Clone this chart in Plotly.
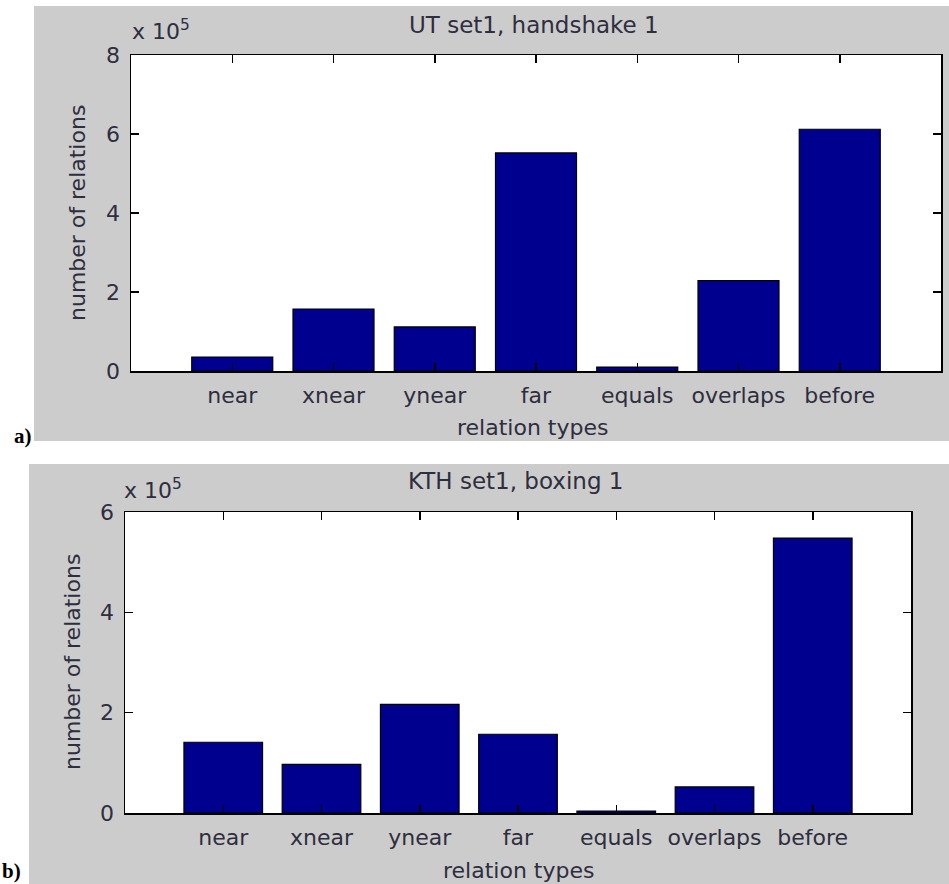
import plotly.graph_objects as go

categories = ["near", "xnear", "ynear", "far", "equals", "overlaps", "before"]
ut_values = [0.355e5, 1.57e5, 1.115e5, 5.52e5, 0.10e5, 2.29e5, 6.12e5]
kth_values = [1.41e5, 0.97e5, 2.165e5, 1.57e5, 0.04e5, 0.52e5, 5.48e5]
ut_yticks = [0, 2e5, 4e5, 6e5, 8e5]
ut_yticklabels = ["0", "2", "4", "6", "8"]
kth_yticks = [0, 2e5, 4e5, 6e5]
kth_yticklabels = ["0", "2", "4", "6"]
ut_title = "UT set1, handshake 1"
kth_title = "KTH set1, boxing 1"
x_title = "relation types"
y_title = "number of relations"

W, H = 949, 884
BAR = "#00008F"
TXT = "#2e2e3e"
FONT = "DejaVu Sans"
FS = 22

def px(x):
    return x / W

def py(y):
    return 1 - y / H

xpos = list(range(1, len(categories) + 1))

fig = go.Figure()
fig.add_trace(go.Bar(x=xpos, y=ut_values, width=0.8, marker=dict(color=BAR, line=dict(color="black", width=1.2)),
                     xaxis="x", yaxis="y", showlegend=False))
fig.add_trace(go.Bar(x=xpos, y=kth_values, width=0.8, marker=dict(color=BAR, line=dict(color="black", width=1.2)),
                     xaxis="x2", yaxis="y2", showlegend=False))

axis_common = dict(showline=True, linecolor="black", linewidth=1.5, mirror="ticks", ticks="inside",
                   ticklen=8, tickcolor="black", tickwidth=1.5, showgrid=False, zeroline=False,
                   automargin=False, fixedrange=True,
                   tickfont=dict(family=FONT, size=FS, color=TXT))

top = dict(l=131, r=941, t=55, b=371)
bot = dict(l=125, r=911, t=512, b=813)

def rect(x0, y0, x1, y1, color):
    return dict(type="rect", xref="paper", yref="paper", x0=px(x0), x1=px(x1), y0=py(y1), y1=py(y0),
                fillcolor=color, line=dict(width=0), layer="below")

fig.update_layout(
    template="none",
    width=W, height=H, margin=dict(l=0, r=0, t=0, b=0, pad=0, autoexpand=False),
    paper_bgcolor="white", plot_bgcolor="rgba(0,0,0,0)", showlegend=False,
    xaxis=dict(domain=[px(top["l"]), px(top["r"])], anchor="y", range=[0, 8],
               tickvals=xpos, ticktext=categories, ticklabelstandoff=4, **axis_common),
    yaxis=dict(domain=[py(top["b"]), py(top["t"])], anchor="x", range=[0, 8e5],
               tickvals=ut_yticks, ticktext=ut_yticklabels, ticklabelstandoff=5, **axis_common),
    xaxis2=dict(domain=[px(bot["l"]), px(bot["r"])], anchor="y2", range=[0, 8],
                tickvals=xpos, ticktext=categories, ticklabelstandoff=4, **axis_common),
    yaxis2=dict(domain=[py(bot["b"]), py(bot["t"])], anchor="x2", range=[0, 6e5],
                tickvals=kth_yticks, ticktext=kth_yticklabels, ticklabelstandoff=5, **axis_common),
    shapes=[
        rect(34, 6, 949, 441, "#cccccc"),
        rect(29, 464, 949, 884, "#cccccc"),
        rect(top["l"], top["t"], top["r"], top["b"], "white"),
        rect(bot["l"], bot["t"], bot["r"], bot["b"], "white"),
    ],
)

def ann(text, x, y, size=FS, xanchor="center", yanchor="middle", angle=0, family=FONT, color=TXT):
    fig.add_annotation(text=text, x=px(x), y=py(y), xref="paper", yref="paper", showarrow=False,
                       xanchor=xanchor, yanchor=yanchor, textangle=angle,
                       font=dict(family=family, size=size, color=color))

# titles
ann(ut_title, 534, 25, size=23)
ann(kth_title, 515, 481, size=23)
# x axis titles
ann(x_title, 532, 427)
ann(x_title, 518, 870)
# y axis titles
ann(y_title, 77, 213, angle=-90)
ann(y_title, 72, 662, angle=-90)
# exponent labels
ann("x 10<sup>5</sup>", 130, 30, xanchor="left")
ann("x 10<sup>5</sup>", 122, 489, xanchor="left")
# panel labels
ann("<b>a)</b>", 12, 436, size=21, xanchor="left", family="Liberation Serif", color="black")
ann("<b>b)</b>", 0, 871, size=21, xanchor="left", family="Liberation Serif", color="black")

fig.write_html("out.html", config=dict(displayModeBar=False, staticPlot=True),
               post_script="document.body.style.margin='0';document.body.style.overflow='hidden';")
